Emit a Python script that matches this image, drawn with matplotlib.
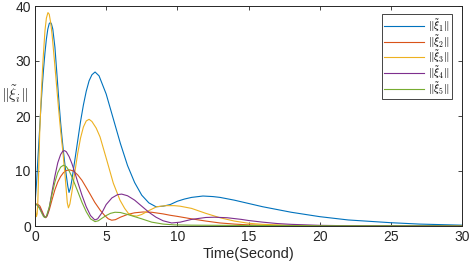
import matplotlib
matplotlib.use("Agg")
import matplotlib.pyplot as plt

plt.rcParams['font.family'] = ['Liberation Sans', 'DejaVu Sans']
plt.rcParams['mathtext.fontset'] = 'cm'

# values
t1 = [0, 0.1, 0.2, 0.3, 0.4, 0.5, 0.6, 0.7, 0.8, 0.9, 1.0, 1.08, 1.15, 1.25, 1.4, 1.5, 1.6, 1.7,
      1.8, 1.9, 2.0, 2.1, 2.2, 2.3, 2.39, 2.5, 2.6, 2.8, 3.0, 3.2, 3.4, 3.6, 3.8, 4.0, 4.22, 4.5,
      5.0, 5.5, 6.0, 6.5, 7.0, 7.5, 8.0, 8.5, 9.0, 9.5, 10, 10.5, 11, 11.8, 12.5, 13, 14, 15, 16,
      17, 18, 20, 22, 25, 27, 30]
xi1 = [4.0, 7.5, 12, 16.5, 21, 25, 28.5, 31.5, 34, 35.8, 36.8, 37, 36.8, 35.8, 32.5, 29, 25.5, 22,
       18.8, 16, 13.5, 11.2, 9.2, 7.3, 6.1, 7.0, 8.5, 12, 15.5, 19, 22, 24.5, 26.4, 27.5, 28, 27.3,
       24, 19.5, 15, 11.0, 7.9, 5.6, 4.2, 3.5, 3.6, 3.9, 4.5, 4.9, 5.2, 5.45, 5.35, 5.2, 4.7, 4.1, 3.5,
       3.0, 2.5, 1.7, 1.1, 0.6, 0.35, 0.15]

t2 = [0, 0.1, 0.2, 0.35, 0.5, 0.65, 0.75, 0.85, 1.0, 1.2, 1.4, 1.6, 1.8, 2.0, 2.2, 2.45, 2.7, 3.0,
      3.3, 3.6, 3.87, 4.2, 4.6, 4.9, 5.15, 5.39, 5.65, 6.0, 6.5, 7.0, 7.6, 8.2, 9.0, 9.5, 10, 11, 12,
      13, 14, 15, 17, 20, 25, 30]
xi2 = [4.0, 4.0, 3.95, 3.6, 2.7, 1.8, 1.5, 1.8, 2.9, 4.8, 6.6, 8.0, 9.0, 9.7, 10.1, 10.2, 10.0, 9.3,
       8.3, 7.0, 5.8, 4.3, 2.8, 1.9, 1.3, 1.05, 1.15, 1.6, 2.1, 2.4, 2.55, 2.5, 2.2, 1.95, 1.75, 1.3,
       0.9, 0.55, 0.35, 0.2, 0.08, 0.03, 0.01, 0.01]

t3 = [0, 0.05, 0.1, 0.15, 0.2, 0.33, 0.45, 0.56, 0.7, 0.8, 0.91, 1.0, 1.1, 1.2, 1.35, 1.5, 1.65,
      1.8, 1.97, 2.1, 2.2, 2.27, 2.35, 2.45, 2.6, 2.8, 3.0, 3.2, 3.4, 3.6, 3.8, 4.0, 4.3, 4.57, 5.04,
      5.5, 5.97, 6.3, 6.56, 6.85, 7.14, 7.5, 8.0, 8.55, 9.2, 9.8, 10.2, 11, 12, 13, 14, 15, 16, 18,
      20, 25, 30]
xi3 = [4.0, 2.5, 1.7, 2.2, 4.5, 16.9, 24.5, 30, 35.5, 37.8, 38.8, 38.5, 37, 34.8, 30.5, 26, 21.5,
       17.3, 13.2, 9.5, 6.4, 4.2, 3.3, 4.0, 6.3, 9.8, 13.2, 16, 18, 19.1, 19.4, 19.0, 17.8, 16.2, 12,
       7.8, 4.7, 3.2, 2.3, 1.9, 1.8, 2.1, 2.8, 3.5, 3.7, 3.7, 3.6, 3.2, 2.3, 1.5, 0.9, 0.5, 0.3, 0.12,
       0.05, 0.02, 0.01]

t4 = [0, 0.1, 0.2, 0.35, 0.5, 0.65, 0.75, 0.85, 1.0, 1.2, 1.4, 1.6, 1.8, 1.95, 2.08, 2.2, 2.4, 2.6,
      2.8, 3.0, 3.3, 3.6, 3.9, 4.2, 4.4, 4.7, 5.0, 5.4, 5.8, 6.09, 6.5, 7.0, 7.5, 8.0, 8.5, 9.0, 9.6,
      10.2, 11, 12, 12.6, 13.5, 14.5, 15, 16, 17, 18, 20, 22, 30]
xi4 = [4.0, 3.9, 3.7, 3.2, 2.4, 1.7, 1.55, 1.9, 3.3, 6.3, 9.1, 11.5, 13.0, 13.6, 13.7, 13.5, 12.6,
       11.3, 9.7, 8.0, 5.6, 3.5, 1.9, 1.1, 1.3, 2.4, 3.9, 5.1, 5.7, 5.8, 5.5, 4.7, 3.6, 2.5, 1.6, 0.95,
       0.55, 0.7, 1.2, 1.55, 1.6, 1.5, 1.2, 1.0, 0.7, 0.45, 0.3, 0.12, 0.05, 0.01]

t5 = [0, 0.1, 0.2, 0.35, 0.5, 0.6, 0.7, 0.8, 1.0, 1.2, 1.4, 1.6, 1.8, 2.0, 2.2, 2.4, 2.6, 2.8, 3.0,
      3.3, 3.6, 3.9, 4.22, 4.45, 4.7, 5.0, 5.3, 5.62, 6.0, 6.5, 7.0, 7.5, 8.2, 9.0, 9.8, 11, 13, 16,
      20, 30]
xi5 = [4.0, 3.9, 3.7, 3.0, 2.2, 1.7, 1.55, 1.8, 3.4, 5.8, 8.0, 9.7, 10.7, 11.05, 10.8, 10.0, 8.9,
       7.6, 6.3, 4.3, 2.6, 1.3, 0.8, 0.95, 1.4, 1.9, 2.3, 2.5, 2.45, 2.1, 1.7, 1.3, 0.7, 0.35, 0.2,
       0.15, 0.12, 0.08, 0.04, 0.01]

series = [(t1, xi1), (t2, xi2), (t3, xi3), (t4, xi4), (t5, xi5)]
labels = [r'$\|\tilde{\xi}_%d\|$' % k for k in range(1, 6)]
colors = ['#0072BD', '#D95319', '#EDB120', '#7E2F8E', '#77AC30']

fig = plt.figure(figsize=(4.71, 2.67), dpi=100)
ax = fig.add_axes([35 / 471, 41 / 267, 427 / 471, 220 / 267])

for (t, y), lab, c in zip(series, labels, colors):
    ax.plot(t, y, color=c, lw=0.8, label=lab)

ax.set_xlim(0, 30)
ax.set_ylim(0, 40)
ax.set_xticks([0, 5, 10, 15, 20, 25, 30])
ax.set_yticks([0, 10, 20, 30, 40])

edge = '#262626'
for s in ax.spines.values():
    s.set_color(edge)
    s.set_linewidth(0.7)
ax.tick_params(direction='in', top=True, right=True, length=3, width=0.6,
               colors=edge, labelsize=10, pad=3)

ax.set_xlabel('Time(Second)', fontsize=10.5, color=edge, labelpad=2)
ax.set_ylabel(r'$\|\tilde{\xi}_i\|$', fontsize=11, rotation=0, color=edge)
ax.yaxis.set_label_coords(-0.047, 0.55)

leg = ax.legend(loc='upper right', bbox_to_anchor=(0.977, 0.962), borderaxespad=0,
                fontsize=8, handlelength=3.6, handletextpad=0.3, labelspacing=-0.12,
                fancybox=False, framealpha=1, borderpad=0.25)
leg.get_frame().set_edgecolor(edge)
leg.get_frame().set_linewidth(0.6)

fig.savefig('out.png', dpi=100)
